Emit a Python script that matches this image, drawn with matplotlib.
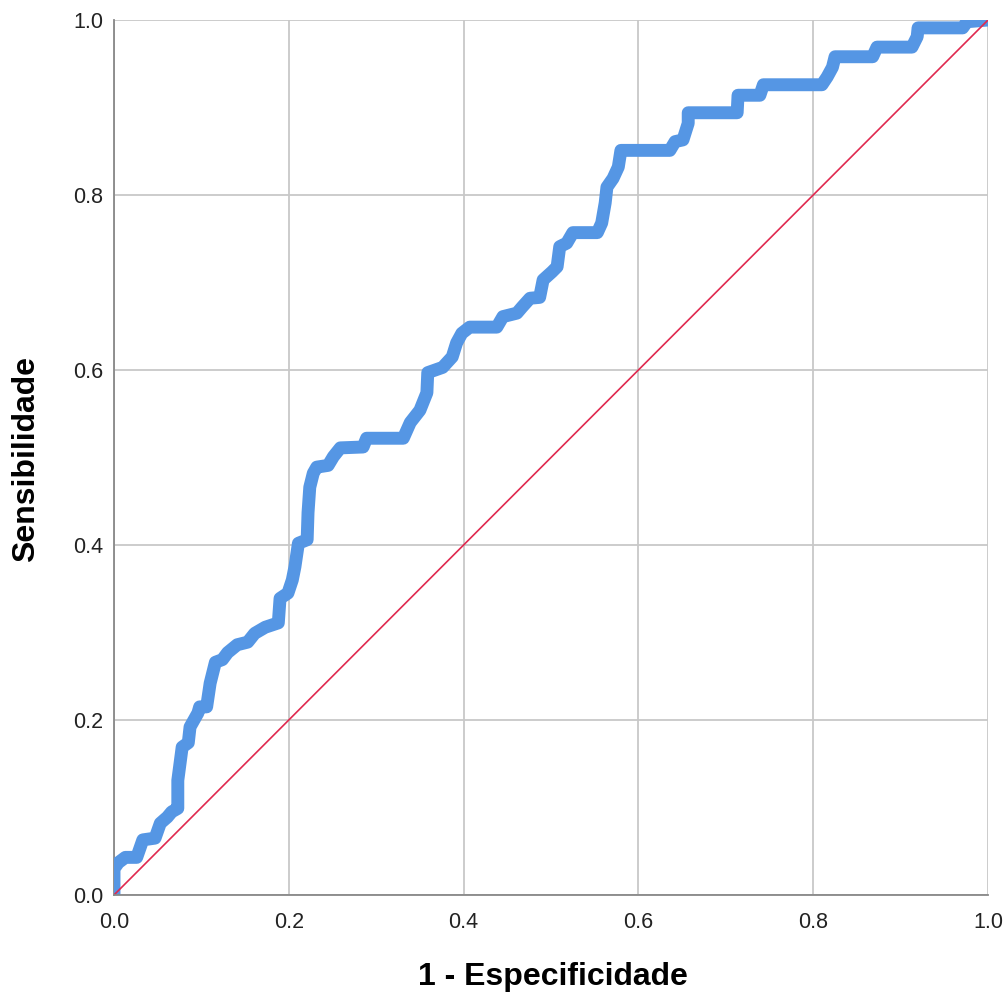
import matplotlib
matplotlib.use("Agg")
import matplotlib.pyplot as plt

# ROC curve points (1 - specificity, sensitivity)
fpr = [0.000, 0.000, 0.005, 0.013, 0.026, 0.033, 0.047, 0.053, 0.061, 0.066, 0.073,
       0.073, 0.078, 0.085, 0.087, 0.096, 0.098, 0.106, 0.110, 0.116, 0.124, 0.130,
       0.141, 0.153, 0.161, 0.173, 0.188, 0.190, 0.199, 0.204, 0.207, 0.211, 0.221,
       0.222, 0.224, 0.228, 0.232, 0.245, 0.251, 0.259, 0.285, 0.289, 0.331, 0.339,
       0.350, 0.358, 0.359, 0.376, 0.387, 0.392, 0.398, 0.407, 0.438, 0.445, 0.461,
       0.467, 0.476, 0.487, 0.491, 0.501, 0.507, 0.510, 0.518, 0.525, 0.553, 0.558,
       0.562, 0.564, 0.571, 0.577, 0.580, 0.636, 0.642, 0.651, 0.657, 0.657, 0.713,
       0.714, 0.739, 0.743, 0.810, 0.816, 0.822, 0.825, 0.868, 0.873, 0.913, 0.919,
       0.920, 0.971, 0.976, 1.000]
tpr = [0.000, 0.030, 0.037, 0.043, 0.043, 0.063, 0.065, 0.082, 0.089, 0.095, 0.099,
       0.131, 0.169, 0.174, 0.192, 0.208, 0.215, 0.215, 0.242, 0.266, 0.269, 0.277,
       0.286, 0.289, 0.299, 0.306, 0.311, 0.339, 0.345, 0.360, 0.375, 0.402, 0.406,
       0.437, 0.466, 0.482, 0.489, 0.491, 0.501, 0.511, 0.512, 0.522, 0.522, 0.540,
       0.554, 0.574, 0.597, 0.603, 0.615, 0.631, 0.642, 0.649, 0.649, 0.661, 0.665,
       0.672, 0.682, 0.683, 0.703, 0.712, 0.718, 0.741, 0.745, 0.757, 0.757, 0.768,
       0.791, 0.809, 0.819, 0.832, 0.851, 0.851, 0.861, 0.863, 0.882, 0.894, 0.894,
       0.914, 0.914, 0.926, 0.926, 0.935, 0.946, 0.958, 0.958, 0.969, 0.969, 0.981,
       0.991, 0.991, 0.998, 1.000]
ref_x = [0.0, 1.0]
ref_y = [0.0, 1.0]
ticks = [0.0, 0.2, 0.4, 0.6, 0.8, 1.0]
tick_labels = ["0.0", "0.2", "0.4", "0.6", "0.8", "1.0"]

plt.rcParams['font.family'] = ['Liberation Sans', 'DejaVu Sans']

fig = plt.figure(figsize=(10.06, 9.99), dpi=100)
ax = fig.add_axes([114/1006, 1-895/999, 874/1006, 875/999])

ax.plot(fpr, tpr, color='#5596E4', linewidth=9.3, solid_joinstyle='round',
        solid_capstyle='butt', zorder=3)
ax.plot(ref_x, ref_y, color='#E0294F', linewidth=1.2, zorder=4)

ax.set_xlim(0, 1)
ax.set_ylim(0, 1)
ax.set_xticks(ticks)
ax.set_yticks(ticks)
ax.set_xticklabels(tick_labels)
ax.set_yticklabels(tick_labels)
ax.tick_params(length=0, labelsize=15.5, colors='#222222')
ax.tick_params(axis='y', pad=8)
ax.tick_params(axis='x', pad=12)
ax.grid(True, color='#c8c8c8', linewidth=1.3)
ax.set_axisbelow(True)
for s in ['top', 'right']:
    ax.spines[s].set_visible(False)
for s in ['left', 'bottom']:
    ax.spines[s].set_color('#888888')
    ax.spines[s].set_linewidth(1.3)
ax.spines['bottom'].set_zorder(5)

ax.set_xlabel('1 - Especificidade', fontsize=23, fontweight='bold')
ax.set_ylabel('Sensibilidade', fontsize=23, fontweight='bold')
ax.xaxis.set_label_coords(0.5017, -0.077)
ax.yaxis.set_label_coords(-0.083, 0.498)

fig.savefig('out.png', dpi=100)
